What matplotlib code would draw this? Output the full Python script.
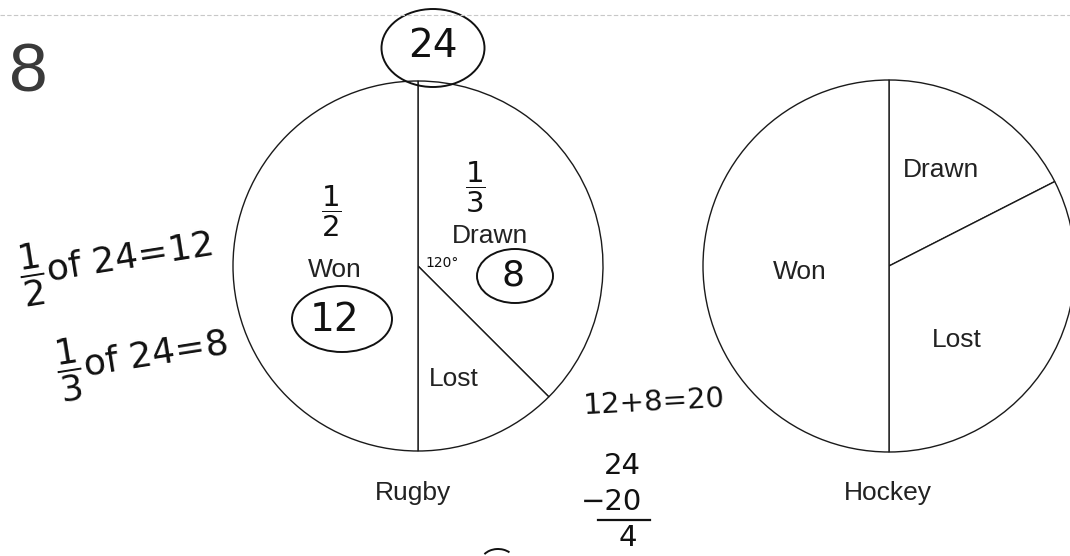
import matplotlib
matplotlib.use("Agg")
import matplotlib.pyplot as plt
from matplotlib.patches import Ellipse, Arc

# image size in pixels, everything below is placed in pixel coords
W, H = 1070, 556

# pie data (degrees), clockwise from 12 o'clock
categories = ["Drawn", "Lost", "Won"]
rugby_deg = [135, 45, 180]
hockey_deg = [63, 117, 180]
sports = ["Rugby", "Hockey"]


def py(y):
    # convert picture y (top down) to axes y (bottom up)
    return H - y


fig = plt.figure(figsize=(W / 100, H / 100), dpi=100)
ax = fig.add_axes([0, 0, 1, 1])

wp = dict(facecolor="white", edgecolor="#1a1a1a", linewidth=1.0)
ax.pie(rugby_deg, startangle=90, counterclock=False, center=(418, py(266)),
       radius=185, frame=True, wedgeprops=wp)
ax.pie(hockey_deg, startangle=90, counterclock=False, center=(889, py(266)),
       radius=186, frame=True, wedgeprops=wp)
ax.set_xlim(0, W)
ax.set_ylim(0, H)
ax.set_aspect("equal")
ax.axis("off")

# faint page edge of the scan
ax.axhline(py(15), color="#c8c8c8", lw=0.8, ls=(0, (4, 2)))

# printed labels
pf = dict(family="Liberation Sans", fontsize=19, color="#222222",
          ha="center", va="center")
ax.text(335, py(270), "Won", **pf)
ax.text(490, py(236), "Drawn", **pf)
ax.text(454, py(379), "Lost", **pf)
ax.text(800, py(272), "Won", **pf)
ax.text(941, py(170), "Drawn", **pf)
ax.text(957, py(340), "Lost", **pf)
ax.text(413, py(493), sports[0], **pf)
ax.text(888, py(493), sports[1], **pf)
ax.text(28, py(74), "8", family="Liberation Sans", fontsize=50,
        color="#3a3a3a", ha="center", va="center")

# handwritten working
hw = dict(family="DejaVu Sans", color="#111111", ha="center", va="center")
ax.text(433, py(46), "24", fontsize=28, **hw)
ax.add_patch(Ellipse((433, py(48)), 103, 78, fill=False, ec="#111111", lw=1.4))
ax.text(331, py(211), r"$\dfrac{1}{2}$", fontsize=21, **hw)
ax.text(475, py(187), r"$\dfrac{1}{3}$", fontsize=21, **hw)
ax.text(334, py(320), "12", fontsize=28, **hw)
ax.add_patch(Ellipse((342, py(319)), 100, 66, fill=False, ec="#111111", lw=1.4))
ax.text(513, py(276), "8", fontsize=26, **hw)
ax.add_patch(Ellipse((515, py(276)), 76, 54, fill=False, ec="#111111", lw=1.4))
ax.text(442, py(263), "120°", fontsize=10, **hw)
ax.text(116, py(262), r"$\dfrac{1}{2}$of 24=12", fontsize=26, rotation=9, **hw)
ax.text(142, py(358), r"$\dfrac{1}{3}$of 24=8", fontsize=26, rotation=9, **hw)
ax.text(654, py(402), "12+8=20", fontsize=21, rotation=3, **hw)
ax.text(622, py(466), "24", fontsize=21, **hw)
ax.text(612, py(502), "−20", fontsize=21, **hw)
ax.text(628, py(538), "4", fontsize=21, **hw)
ax.axhline(py(520), xmin=598 / W, xmax=650 / W, color="#111111", lw=1.6)
ax.add_patch(Arc((498, py(562)), 34, 26, theta1=40, theta2=150,
                 ec="#111111", lw=1.4))

fig.savefig("out.png", dpi=100)
